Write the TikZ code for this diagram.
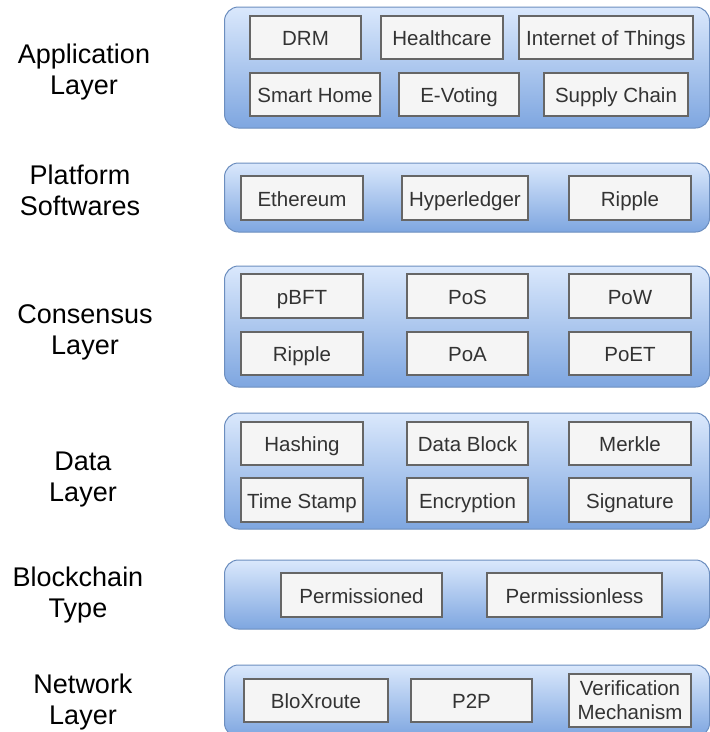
\documentclass[tikz,border=0pt]{standalone}
\usepackage{fontspec}
\setmainfont{Liberation Sans}
\definecolor{laytop}{HTML}{DAE8FC}
\definecolor{laybot}{HTML}{7EA6E0}
\definecolor{layline}{HTML}{6C8EBF}
\definecolor{itemfill}{HTML}{F5F5F5}
\definecolor{itemline}{HTML}{666666}
\definecolor{itemtext}{HTML}{333333}
\tikzset{
  layerbox/.style={draw=layline, line width=1pt, rounded corners=14pt,
    top color=laytop, bottom color=laybot, inner sep=0pt},
  itemboxbase/.style={draw=itemline, line width=1.3pt, fill=itemfill, text=itemtext,
    inner sep=0pt, align=center, font=\fontsize{20.5}{24}\selectfont},
  itembox/.style={itemboxbase, text height=20pt, text depth=4pt},
  laylabel/.style={anchor=base, align=center, inner sep=0pt,
    font=\fontsize{27}{31}\selectfont},
}
\begin{document}
\begin{tikzpicture}[x=1pt,y=-1pt]
\useasboundingbox (0,0) rectangle (710,732);
\clip (0,0) rectangle (710,732);
\fill[white] (0,0) rectangle (710,732);
% layer containers
\node[layerbox, minimum width=485, minimum height=121] (app)  at (467,67.5) {};
\node[layerbox, minimum width=485, minimum height=69]  (plat) at (467,197.5) {};
\node[layerbox, minimum width=485, minimum height=121] (cons) at (467,326.5) {};
\node[layerbox, minimum width=485, minimum height=116] (data) at (467,471) {};
\node[layerbox, minimum width=485, minimum height=69]  (type) at (467,594.5) {};
\node[layerbox, minimum width=485, minimum height=72]  (net)  at (467,701) {};
% labels (anchor base = baseline of last line)
\node[laylabel] (lapp)  at (84,94)  {Application\\Layer};
\node[laylabel] (lplat) at (80,215) {Platform\\Softwares};
\node[laylabel] (lcons) at (85,354) {Consensus\\Layer};
\node[laylabel] (ldata) at (83,501) {Data\\Layer};
\node[laylabel] (ltype) at (78,617) {Blockchain\\Type};
\node[laylabel] (lnet)  at (83,724) {Network\\Layer};
% application
\node[itembox, minimum width=111, minimum height=43] (drm)    at (305.5,37.5) {DRM};
\node[itembox, minimum width=122, minimum height=43] (health) at (442,37.5) {Healthcare};
\node[itembox, minimum width=174, minimum height=43] (iot)    at (606,37.5) {Internet of Things};
\node[itembox, minimum width=130, minimum height=43] (smart)  at (315,94.5) {Smart Home};
\node[itembox, minimum width=120, minimum height=43] (evote)  at (459,94.5) {E-Voting};
\node[itembox, minimum width=144, minimum height=43] (supply) at (616,94.5) {Supply Chain};
% platform
\node[itembox, minimum width=122, minimum height=44] (eth)    at (302,198) {Ethereum};
\node[itembox, minimum width=126, minimum height=44] (hyper)  at (465,198) {Hyperledger};
\node[itembox, minimum width=122, minimum height=44] (ripp)   at (630,198) {Ripple};
% consensus
\node[itembox, minimum width=122, minimum height=44] (pbft)   at (302,296) {pBFT};
\node[itembox, minimum width=121, minimum height=44] (pos)    at (467.5,296) {PoS};
\node[itembox, minimum width=122, minimum height=44] (pow)    at (630,296) {PoW};
\node[itembox, minimum width=122, minimum height=43] (rip2)   at (302,353.5) {Ripple};
\node[itembox, minimum width=121, minimum height=43] (poa)    at (467.5,353.5) {PoA};
\node[itembox, minimum width=122, minimum height=43] (poet)   at (630,353.5) {PoET};
% data
\node[itembox, minimum width=122, minimum height=43] (hash)   at (302,443.5) {Hashing};
\node[itembox, minimum width=121, minimum height=43] (dblock) at (467.5,443.5) {Data Block};
\node[itembox, minimum width=122, minimum height=43] (merk)   at (630,443.5) {Merkle};
\node[itembox, minimum width=122, minimum height=44] (tstamp) at (302,500) {Time Stamp};
\node[itembox, minimum width=121, minimum height=44] (encr)   at (467.5,500) {Encryption};
\node[itembox, minimum width=122, minimum height=44] (sig)    at (630,500) {Signature};
% type
\node[itembox, minimum width=161, minimum height=44] (perm)   at (361.5,595) {Permissioned};
\node[itembox, minimum width=175, minimum height=44] (perml)  at (574.5,595) {Permissionless};
% network
\node[itembox, minimum width=144, minimum height=43] (blox)   at (316,700.5) {BloXroute};
\node[itembox, minimum width=121, minimum height=43] (p2p)    at (471.5,700.5) {P2P};
\node[itemboxbase, minimum width=122, minimum height=53] (verif)  at (630,700.5) {Verification\\Mechanism};
\end{tikzpicture}
\end{document}
